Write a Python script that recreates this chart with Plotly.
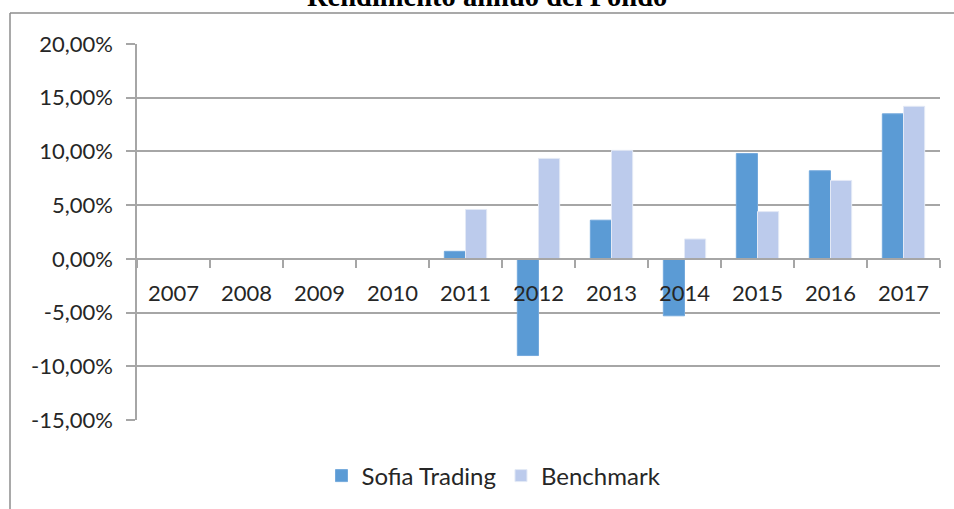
import plotly.graph_objects as go

years = ["2007", "2008", "2009", "2010", "2011", "2012", "2013", "2014", "2015", "2016", "2017"]
sofia = [None, None, None, None, 0.7, -9.0, 3.6, -5.3, 9.8, 8.2, 13.5]
benchmark = [None, None, None, None, 4.6, 9.35, 10.1, 1.85, 4.4, 7.3, 14.2]
y_tickvals = [-15, -10, -5, 0, 5, 10, 15, 20]
y_ticktext = ["-15,00%", "-10,00%", "-5,00%", "0,00%", "5,00%", "10,00%", "15,00%", "20,00%"]
title_text = "Rendimento annuo del Fondo"

W, H = 954, 509
L, R, T, B = 137, 14, 44, 88
pw, ph = W - L - R, H - T - B

def px_x(x):
    return (x - L) / pw

def px_y(y):
    return (H - B - y) / ph

grid = "#a6a6a6"
font = "Lato"
txt = "#262626"

fig = go.Figure()
fig.add_trace(go.Bar(name="Sofia Trading", x=years, y=sofia,
                     marker=dict(color="#5b9bd5", line=dict(color="#74a9dc", width=1))))
fig.add_trace(go.Bar(name="Benchmark", x=years, y=benchmark,
                     marker=dict(color="#bccbec", line=dict(color="#e3e9f6", width=1))))

ymin, ymax = -15, 20
fig.update_layout(
    width=W, height=H,
    margin=dict(l=L, r=R, t=T, b=B),
    paper_bgcolor="white", plot_bgcolor="white",
    barmode="group", bargap=0.42, bargroupgap=0,
    font=dict(family=font, size=22, color=txt),
    showlegend=True,
    legend=dict(orientation="h", xref="paper", x=px_x(494), xanchor="center",
                y=px_y(476), yanchor="middle", font=dict(size=24, color=txt),
                itemwidth=30, tracegroupgap=0),
    xaxis=dict(type="category", anchor="free", position=(0 - ymin) / (ymax - ymin),
               showline=True, linecolor=grid, linewidth=1.5,
               ticks="outside", tickson="boundaries", ticklen=8, tickcolor=grid, tickwidth=1.5,
               showgrid=False, ticklabelstandoff=15,
               tickfont=dict(family=font, size=22, color=txt)),
    yaxis=dict(range=[ymin, ymax], tickvals=y_tickvals, ticktext=y_ticktext,
               showline=True, linecolor=grid, linewidth=1.5,
               ticks="outside", ticklen=9, tickcolor=grid, tickwidth=1.5,
               showgrid=True, gridcolor=grid, gridwidth=1.5, zeroline=False,
               ticklabelstandoff=9,
               tickfont=dict(family=font, size=22, color=txt)),
    shapes=[
        dict(type="line", xref="paper", yref="paper", x0=px_x(10), x1=px_x(960),
             y0=px_y(13), y1=px_y(13), line=dict(color="#8c8c8c", width=1.5)),
        dict(type="line", xref="paper", yref="paper", x0=px_x(10), x1=px_x(10),
             y0=px_y(13), y1=px_y(515), line=dict(color="#8c8c8c", width=1.5)),
    ],
    annotations=[dict(text="<b>" + title_text + "</b>", xref="paper", yref="paper",
                      x=px_x(487), y=px_y(14), xanchor="center", yanchor="bottom",
                      showarrow=False,
                      font=dict(family="Liberation Serif", size=28.5, color="#000000"))],
)

fig.write_html("out.html", config={"displayModeBar": False},
               post_script="document.body.style.margin='0';document.body.style.overflow='hidden';")
